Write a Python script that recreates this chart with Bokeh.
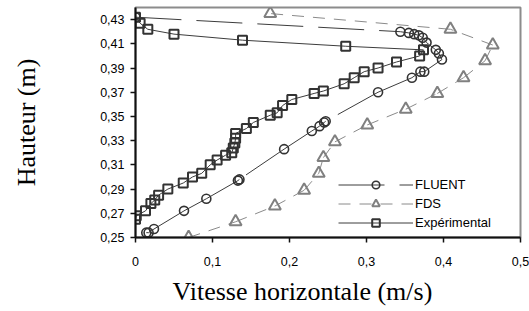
from bokeh.plotting import figure
from bokeh.models import Range1d, FixedTicker, Title, Legend, LegendItem
from bokeh.embed import file_html
from bokeh.resources import INLINE

# ---- data ----
# FLUENT series, in its original order (starting top-left, around the nose, down to the bottom)
fluent_v = [0.000, 0.344, 0.355, 0.362, 0.368, 0.373, 0.378, 0.390, 0.394, 0.398,
            0.375, 0.370, 0.359, 0.315, 0.247, 0.245, 0.239, 0.229, 0.193, 0.135,
            0.133, 0.092, 0.063, 0.024, 0.017, 0.014]
fluent_h = [0.432, 0.420, 0.419, 0.418, 0.417, 0.415, 0.411, 0.405, 0.402, 0.397,
            0.387, 0.387, 0.382, 0.370, 0.346, 0.345, 0.342, 0.338, 0.323, 0.298,
            0.297, 0.282, 0.272, 0.257, 0.254, 0.254]

# FDS series (bottom to top)
fds_v = [0.069, 0.130, 0.181, 0.219, 0.238, 0.244, 0.259, 0.301, 0.351, 0.392,
         0.426, 0.454, 0.464, 0.409, 0.175]
fds_h = [0.250, 0.263, 0.276, 0.289, 0.303, 0.316, 0.329, 0.343, 0.356, 0.369,
         0.382, 0.396, 0.409, 0.422, 0.435]

# Experimental series (bottom to top, then back along the top)
exp_v = [0.000, 0.001, 0.013, 0.020, 0.025, 0.030, 0.042, 0.062, 0.074, 0.086,
         0.097, 0.106, 0.117, 0.125, 0.127, 0.129, 0.130, 0.130, 0.144, 0.153,
         0.175, 0.184, 0.191, 0.203, 0.232, 0.244, 0.271, 0.284, 0.297, 0.315,
         0.339, 0.369, 0.374, 0.273, 0.139, 0.050, 0.016, 0.006, 0.000]
exp_h = [0.265, 0.268, 0.272, 0.278, 0.281, 0.285, 0.290, 0.295, 0.300, 0.303,
         0.310, 0.314, 0.318, 0.320, 0.324, 0.328, 0.332, 0.336, 0.340, 0.345,
         0.351, 0.353, 0.359, 0.364, 0.369, 0.371, 0.377, 0.382, 0.387, 0.390,
         0.395, 0.400, 0.405, 0.408, 0.413, 0.418, 0.422, 0.427, 0.432]

x_ticks = [0, 0.1, 0.2, 0.3, 0.4, 0.5]
x_tick_labels = ["0", "0,1", "0,2", "0,3", "0,4", "0,5"]
y_ticks = [0.25, 0.27, 0.29, 0.31, 0.33, 0.35, 0.37, 0.39, 0.41, 0.43]
y_tick_labels = ["0,25", "0,27", "0,29", "0,31", "0,33", "0,35", "0,37", "0,39", "0,41", "0,43"]

series_names = ["FLUENT", "FDS", "Expérimental"]
x_title = "Vitesse horizontale (m/s)"
y_title = "Hauteur (m)"

# ---- figure ----
p = figure(width=529, height=311, output_backend="svg", toolbar_location=None,
           x_range=Range1d(0, 0.5), y_range=Range1d(0.25, 0.44),
           min_border_left=135, min_border_right=9, min_border_top=7,
           min_border_bottom=74)
p.grid.visible = False
p.background_fill_color = "white"
p.border_fill_color = "white"
p.outline_line_color = "#8c8c8c"
p.outline_line_width = 2

for ax in (p.xaxis, p.yaxis):
    ax.axis_line_color = "#111111"
    ax.axis_line_width = 2
    ax.major_tick_line_color = "#111111"
    ax.major_tick_line_width = 1.5
    ax.major_tick_out = 5
    ax.major_tick_in = 0
    ax.minor_tick_line_color = None
    ax.major_label_text_font = "Liberation Sans"
    ax.major_label_text_font_size = "12.5px"
    ax.major_label_text_color = "black"

p.xaxis.ticker = FixedTicker(ticks=x_ticks)
p.xaxis.major_label_overrides = dict(zip(x_ticks, x_tick_labels))
p.xaxis.major_label_standoff = 14
p.yaxis.ticker = FixedTicker(ticks=y_ticks)
p.yaxis.major_label_overrides = dict(zip(y_ticks, y_tick_labels))
p.yaxis.major_label_standoff = 6

p.yaxis.axis_label = y_title
p.yaxis.axis_label_text_font = "Liberation Serif"
p.yaxis.axis_label_text_font_size = "26px"
p.yaxis.axis_label_text_font_style = "normal"
p.yaxis.axis_label_text_color = "black"
p.yaxis.axis_label_standoff = 56

p.add_layout(Title(text=x_title, align="left", offset=37, standoff=12,
                   text_font="Liberation Serif", text_font_size="26px",
                   text_font_style="normal", text_color="black"), "below")

# ---- series ----
seg_f = p.segment(x0=fluent_v[:-1], y0=fluent_h[:-1], x1=fluent_v[1:], y1=fluent_h[1:],
                  line_color="#3c3c3c", line_width=1, line_dash="46 15")
sc_f = p.scatter(fluent_v, fluent_h, marker="circle", size=9, fill_color=None,
                 line_color="#333333", line_width=1.6)

seg_d = p.segment(x0=fds_v[:-1], y0=fds_h[:-1], x1=fds_v[1:], y1=fds_h[1:],
                  line_color="#8a8a8a", line_width=1, line_dash="12 9")
sc_d = p.scatter(fds_v, fds_h, marker="triangle", size=12, fill_color=None,
                 line_color="#808080", line_width=2)

ln_e = p.line(exp_v, exp_h, line_color="#3c3c3c", line_width=1)
sc_e = p.scatter(exp_v, exp_h, marker="square", size=9, fill_color=None,
                 line_color="#333333", line_width=2)

legend = Legend(items=[LegendItem(label=series_names[0], renderers=[seg_f, sc_f]),
                       LegendItem(label=series_names[1], renderers=[seg_d, sc_d]),
                       LegendItem(label=series_names[2], renderers=[ln_e, sc_e])],
                location=(203, 5), glyph_width=75, glyph_height=19, label_height=19,
                label_width=102, label_standoff=2, padding=2, spacing=0, margin=0,
                border_line_color=None, background_fill_color="white",
                background_fill_alpha=1.0, label_text_font="Liberation Sans",
                label_text_font_size="13px", label_text_color="black")
p.add_layout(legend)

open("out.html", "w").write(file_html(p, INLINE))
